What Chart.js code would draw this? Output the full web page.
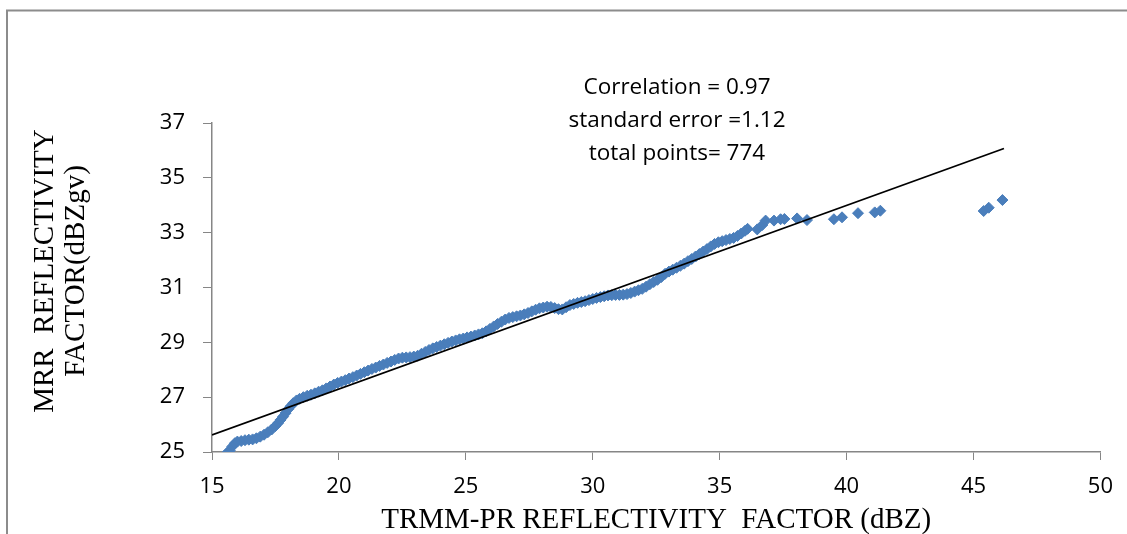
<!DOCTYPE html>
<html>
<head>
<meta charset="utf-8">
<script src="https://cdn.jsdelivr.net/npm/chart.js@4"></script>
<style>
  body { margin: 0; background: #fff; }
  canvas { display: block; }
</style>
</head>
<body>
<canvas id="scatterChart" width="1127" height="534"></canvas>
<script>
// TRMM-PR reflectivity (x) vs MRR reflectivity (y)
var prX = [
  15.6, 15.7, 15.8, 15.9, 16.0, 16.15, 16.3, 16.45, 16.6, 16.75, 16.9, 17.05, 17.2, 17.35, 17.5,
  17.6, 17.7, 17.8, 17.9, 18.0, 18.1, 18.2, 18.33, 18.45, 18.6, 18.75, 18.9, 19.05, 19.2, 19.35,
  19.5, 19.65, 19.8, 19.95, 20.1, 20.25, 20.4, 20.55, 20.7, 20.85, 21.0, 21.15, 21.3, 21.45, 21.6,
  21.75, 21.9, 22.05, 22.2, 22.35, 22.5, 22.65, 22.8, 22.95, 23.1, 23.25, 23.4, 23.55, 23.7, 23.85,
  24.0, 24.15, 24.3, 24.45, 24.6, 24.75, 24.9, 25.05, 25.2, 25.35, 25.5, 25.65, 25.8, 25.95, 26.1,
  26.25, 26.4, 26.55, 26.7, 26.85, 27.0, 27.15, 27.3, 27.45, 27.6, 27.75, 27.9, 28.05, 28.2, 28.35,
  28.5, 28.65, 28.8, 28.95, 29.1, 29.25, 29.4, 29.55, 29.7, 29.85, 30.0, 30.15, 30.3, 30.45, 30.6,
  30.75, 30.9, 31.05, 31.2, 31.35, 31.5, 31.65, 31.8, 31.95, 32.1, 32.25, 32.4, 32.55, 32.7, 32.85,
  33.0, 33.15, 33.3, 33.45, 33.6, 33.75, 33.9, 34.05, 34.2, 34.35, 34.5, 34.65, 34.8, 34.95, 35.1,
  35.25, 35.4, 35.55, 35.7, 35.85, 36.0, 36.1, 36.48, 36.68, 36.81, 37.14, 37.4, 37.55, 38.05, 38.44,
  39.5, 39.82, 40.45, 41.11, 41.33, 45.4, 45.6, 46.14
];
var mrrY = [
  24.98, 25.05, 25.2, 25.32, 25.38, 25.4, 25.43, 25.45, 25.46, 25.5, 25.56, 25.63, 25.72, 25.82, 25.95,
  26.05, 26.17, 26.29, 26.42, 26.56, 26.67, 26.78, 26.88, 26.94, 27.0, 27.05, 27.09, 27.14, 27.2, 27.25,
  27.32, 27.39, 27.46, 27.52, 27.57, 27.62, 27.68, 27.73, 27.79, 27.85, 27.91, 27.97, 28.03, 28.08, 28.14,
  28.19, 28.25, 28.3, 28.36, 28.41, 28.44, 28.45, 28.46, 28.48, 28.51, 28.58, 28.65, 28.72, 28.78, 28.83,
  28.88, 28.93, 28.98, 29.03, 29.07, 29.11, 29.14, 29.18, 29.21, 29.25, 29.29, 29.33, 29.4, 29.49, 29.58,
  29.67, 29.75, 29.83, 29.89, 29.92, 29.95, 29.98, 30.02, 30.07, 30.13, 30.19, 30.24, 30.27, 30.3, 30.29,
  30.25, 30.21, 30.2, 30.28, 30.36, 30.4, 30.44, 30.47, 30.5, 30.54, 30.58, 30.62, 30.65, 30.68, 30.71,
  30.72, 30.73, 30.73, 30.74, 30.76, 30.8, 30.85, 30.9, 30.95, 31.03, 31.12, 31.2, 31.28, 31.38, 31.5,
  31.58, 31.65, 31.72, 31.79, 31.87, 31.96, 32.04, 32.13, 32.22, 32.31, 32.4, 32.5, 32.59, 32.65, 32.69,
  32.73, 32.77, 32.81, 32.88, 32.97, 33.07, 33.14, 33.12, 33.28, 33.44, 33.44, 33.49, 33.5, 33.52, 33.46,
  33.49, 33.56, 33.71, 33.74, 33.8, 33.79, 33.91, 34.19
];

// linear trend line end points
var trendX = [15, 46.2];
var trendY = [25.62, 36.07];

// axis ticks
var xTicks = [15, 20, 25, 30, 35, 40, 45, 50];
var yTicks = [25, 27, 29, 31, 33, 35, 37];

var statsText = ['Correlation = 0.97', 'standard error =1.12', 'total points= 774'];
var xTitle = 'TRMM-PR REFLECTIVITY  FACTOR (dBZ)';
var yTitle = ['MRR  REFLECTIVITY', 'FACTOR(dBZgv)'];

var axisGrey = '#868686';

var points = prX.map(function(x, i) { return { x: x, y: mrrY[i] }; });
var trend = trendX.map(function(x, i) { return { x: x, y: trendY[i] }; });

// frame, titles and the statistics box
var decorations = {
  id: 'decorations',
  afterDraw: function(chart) {
    var ctx = chart.ctx;
    ctx.save();
    ctx.strokeStyle = '#8c8c8c';
    ctx.lineWidth = 2;
    ctx.beginPath();
    ctx.moveTo(7, 540);
    ctx.lineTo(7, 10.5);
    ctx.lineTo(1130, 10.5);
    ctx.stroke();

    ctx.fillStyle = '#000';
    ctx.textAlign = 'center';
    ctx.textBaseline = 'alphabetic';
    ctx.font = '22.5px "Open Sans"';
    statsText.forEach(function(t, i) {
      ctx.fillText(t, 677, 94 + i * 33);
    });

    var area = chart.chartArea;
    ctx.font = '29px "Liberation Serif"';
    ctx.fillText(xTitle, (area.left + area.right) / 2, 528);

    ctx.translate(0, 271);
    ctx.rotate(-Math.PI / 2);
    ctx.fillText(yTitle[0], 0, 53);
    ctx.fillText(yTitle[1], 0, 84);
    ctx.restore();
  }
};

var ctx = document.getElementById('scatterChart').getContext('2d');
var chart = new Chart(ctx, {
  type: 'scatter',
  data: {
    datasets: [
      {
        type: 'line',
        label: 'Trend',
        data: trend,
        borderColor: '#000',
        borderWidth: 1.8,
        pointRadius: 0,
        fill: false,
        order: 0
      },
      {
        label: 'MRR vs TRMM-PR',
        data: points,
        pointStyle: 'rectRot',
        pointRadius: 5.5,
        pointBackgroundColor: '#4A7EBB',
        pointBorderColor: '#4A7EBB',
        pointBorderWidth: 1,
        showLine: false,
        order: 1
      }
    ]
  },
  options: {
    responsive: false,
    animation: false,
    layout: { padding: { left: 0, right: 25, top: 123, bottom: 0 } },
    plugins: {
      legend: { display: false },
      tooltip: { enabled: false }
    },
    scales: {
      x: {
        type: 'linear',
        min: 15,
        max: 50,
        afterBuildTicks: function(scale) {
          scale.ticks = xTicks.map(function(v) { return { value: v }; });
        },
        afterFit: function(scale) { scale.height = 82; },
        grid: { drawOnChartArea: false, drawTicks: true, tickLength: 8, color: axisGrey },
        border: { display: true, color: axisGrey, width: 1.5 },
        ticks: {
          padding: 14,
          color: '#000',
          font: { family: 'Open Sans', size: 22 }
        }
      },
      y: {
        type: 'linear',
        min: 25,
        max: 37,
        afterBuildTicks: function(scale) {
          scale.ticks = yTicks.map(function(v) { return { value: v }; });
        },
        afterFit: function(scale) { scale.width = 212; },
        grid: { drawOnChartArea: false, drawTicks: true, tickLength: 9, color: axisGrey },
        border: { display: true, color: axisGrey, width: 1.5 },
        ticks: {
          padding: 18,
          color: '#000',
          font: { family: 'Open Sans', size: 22 }
        }
      }
    }
  },
  plugins: [decorations]
});
</script>
</body>
</html>
